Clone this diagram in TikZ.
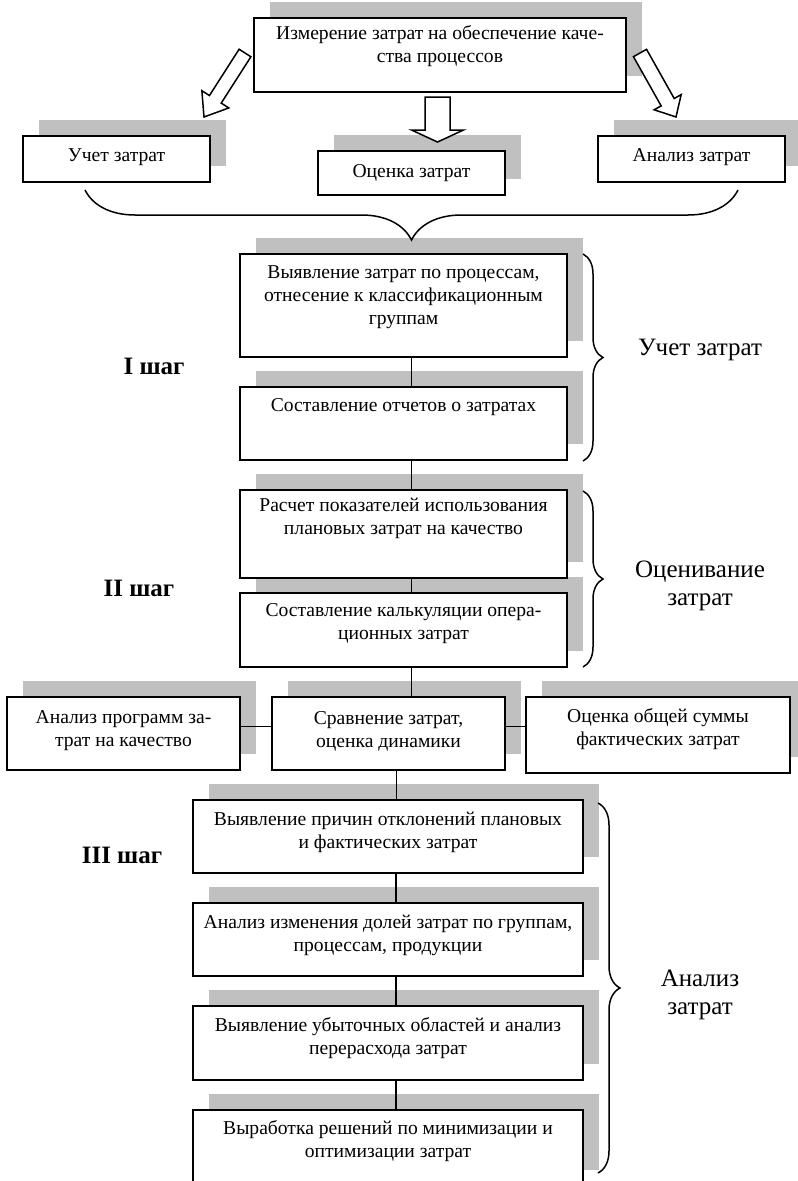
\documentclass[tikz,border=0pt]{standalone}
\usepackage{fontspec}
\setmainfont{Liberation Serif}
\usetikzlibrary{decorations.pathreplacing,calc}
\definecolor{shadowc}{RGB}{192,192,192}
\tikzset{
  boxst/.style={draw, line width=2pt, fill=white, inner sep=0pt},
  txt/.style={align=center, font=\fontsize{19.6}{23}\selectfont, inner sep=0pt},
  lbl/.style={align=center, font=\fontsize{25}{28}\selectfont, inner sep=0pt},
  stp/.style={font=\fontsize{25}{28}\selectfont\bfseries, inner sep=0pt},
  conn/.style={line width=1.9pt},
  brc/.style={line width=1.5pt, decorate, decoration={brace, amplitude=#1}},
  harrow/.style={draw, line width=1.5pt, fill=white, line join=miter}
}
% shadow: x1,y1,x2,y2 in screen pixels (y down)
\newcommand\qshadow[4]{\fill[shadowc] ({#1+16},{-(#2)+16}) rectangle ({#3+16},{-(#4)+16});}
% box node: name, x1,y1,x2,y2
\newcommand\qbox[5]{\node[boxst, minimum width={#4-#2}, minimum height={#5-#3}] (#1) at ({(#2+#4)/2},{-(#3+#5)/2}) {};}
% block arrow: tail x,y ; tip x,y ; shaft half width ; head half width ; head length
\newcommand\barrow[7]{%
  \pgfmathsetmacro\bdx{(#3)-(#1)}%
  \pgfmathsetmacro\bdy{(#2)-(#4)}%
  \pgfmathsetmacro\blen{veclen(\bdx,\bdy)}%
  \pgfmathsetmacro\bang{atan2(\bdy,\bdx)}%
  \begin{scope}[shift={(#1,-#2)}, rotate=\bang]
    \draw[harrow] (0,-#5) -- ({\blen-#7},-#5) -- ({\blen-#7},-#6) -- (\blen,0)
      -- ({\blen-#7},#6) -- ({\blen-#7},#5) -- (0,#5) -- cycle;
  \end{scope}}
\begin{document}
\begin{tikzpicture}[x=1pt,y=1pt]
\useasboundingbox (0,0) rectangle (798,-1181);
% ---- shadows ----
\qshadow{254}{18}{626}{92}
\qshadow{23}{136}{210}{182}
\qshadow{318}{151}{505}{195}
\qshadow{598}{136}{785}{182}
\qshadow{240}{254}{567}{357}
\qshadow{240}{387}{567}{460}
\qshadow{240}{490}{567}{578}
\qshadow{240}{593}{567}{667}
\qshadow{7}{697}{240}{770}
\qshadow{272}{697}{505}{770}
\qshadow{526}{697}{790}{773}
\qshadow{193}{800}{583}{873}
\qshadow{193}{903}{583}{976}
\qshadow{193}{1006}{583}{1080}
\qshadow{193}{1110}{583}{1186}
% ---- boxes ----
\qbox{top}{254}{18}{626}{92}
\qbox{u1}{23}{136}{210}{182}
\qbox{o1}{318}{151}{505}{195}
\qbox{a1}{598}{136}{785}{182}
\qbox{b1}{240}{254}{567}{357}
\qbox{b2}{240}{387}{567}{460}
\qbox{b3}{240}{490}{567}{578}
\qbox{b4}{240}{593}{567}{667}
\qbox{l3}{7}{697}{240}{770}
\qbox{cmp}{272}{697}{505}{770}
\qbox{r3}{526}{697}{790}{773}
\qbox{b5}{193}{800}{583}{873}
\qbox{b6}{193}{903}{583}{976}
\qbox{b7}{193}{1006}{583}{1080}
\qbox{b8}{193}{1110}{583}{1190}
% ---- texts ----
\node[txt] (ttop) at (440,-46.5) {Измерение затрат на обеспечение каче-\\ства процессов};
\node[txt] (tu1) at (116.5,-157) {Учет затрат};
\node[txt] (to1) at (411.5,-173) {Оценка затрат};
\node[txt] (ta1) at (691.5,-157) {Анализ затрат};
\node[txt] (tb1) at (403.5,-297) {Выявление затрат по процессам,\\отнесение к классификационным\\группам};
\node[txt] (tb2) at (403.5,-407) {Составление отчетов о затратах};
\node[txt] (tb3) at (403.5,-518.5) {Расчет показателей использования\\плановых затрат на качество};
\node[txt] (tb4) at (403.5,-624) {Составление калькуляции опера-\\ционных затрат};
\node[txt] (tl3) at (123.5,-731) {Анализ программ за-\\трат на качество};
\node[txt] (tcmp) at (388.5,-731) {Сравнение затрат,\\оценка динамики};
\node[txt] (tr3) at (658,-729) {Оценка общей суммы\\фактических затрат};
\node[txt] (tb5) at (388,-832) {Выявление причин отклонений плановых\\и фактических затрат};
\node[txt] (tb6) at (388,-935) {Анализ изменения долей затрат по группам,\\процессам, продукции};
\node[txt] (tb7) at (388,-1038.5) {Выявление убыточных областей и анализ\\перерасхода затрат};
\node[txt] (tb8) at (388,-1141.5) {Выработка решений по минимизации и\\оптимизации затрат};
% ---- block arrows ----
\barrow{245}{53}{204}{117}{7}{16}{21}
\barrow{437.5}{97}{437.5}{142}{12.5}{26}{12}
\barrow{640}{53}{676}{117}{7.5}{15.5}{17}
% ---- connectors ----
\draw[conn] ([xshift=8pt]b1.south) -- ([xshift=8pt]b2.north);
\draw[conn] ([xshift=8pt]b2.south) -- ([xshift=8pt]b3.north);
\draw[conn] ([xshift=8pt]b3.south) -- ([xshift=8pt]b4.north);
\draw[conn] ([xshift=8pt]b4.south) -- ([xshift=8pt]b4.south |- cmp.north);
\draw[conn] ([yshift=7pt]l3.east) -- ([yshift=7pt]l3.east -| cmp.west);
\draw[conn] ([yshift=7pt]cmp.east) -- ([yshift=7pt]cmp.east -| r3.west);
\draw[conn] ([xshift=8pt]cmp.south) -- ([xshift=8pt]cmp.south |- b5.north);
\draw[conn] ([xshift=8pt]b5.south) -- ([xshift=8pt]b6.north);
\draw[conn] ([xshift=8pt]b6.south) -- ([xshift=8pt]b7.north);
\draw[conn] ([xshift=8pt]b7.south) -- ([xshift=8pt]b8.north);
% ---- braces ----
\draw[brc=50] (738,-190) -- (85,-190);
\draw[brc=20] (583,-254) -- (583,-461);
\draw[brc=20] (583,-491) -- (583,-667);
\draw[brc=22] (598,-803) -- (598,-1173);
% ---- labels ----
\node[lbl] (lu) at (700,-350) {Учет затрат};
\node[lbl] (lo) at (700,-586) {Оценивание\\затрат};
\node[lbl] (la) at (700,-995) {Анализ\\затрат};
\node[stp] (s1) at (154,-366) {I шаг};
\node[stp] (s2) at (139,-588) {II шаг};
\node[stp] (s3) at (122,-855) {III шаг};
\end{tikzpicture}
\end{document}
